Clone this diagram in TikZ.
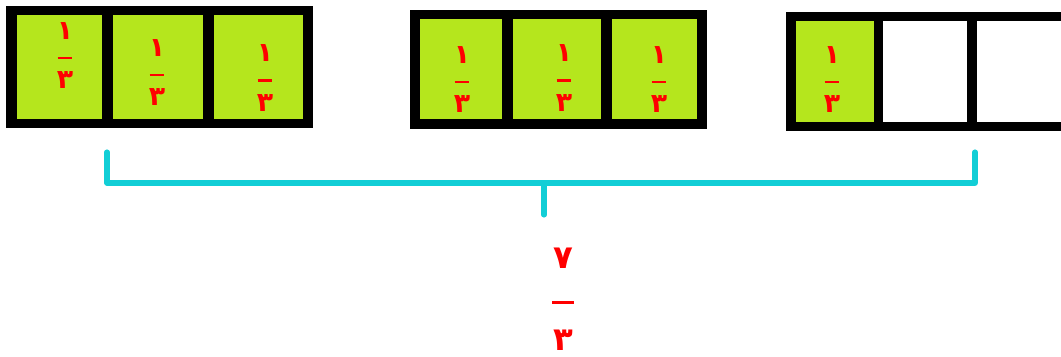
\documentclass[tikz,border=0pt]{standalone}
\usepackage{fontspec}
\newfontfamily\arabicfont[Script=Arabic]{DejaVu Sans}
\definecolor{cellgreen}{RGB}{181,230,29}
\definecolor{bracketcyan}{RGB}{18,206,214}
\newcommand{\smallfrac}[2]{#1\\\rule[3.5pt]{10.5pt}{1.5pt}\\#2}
\newcommand{\bigfrac}[2]{#1\\\rule[4pt]{15.6pt}{2.1pt}\\#2}

\begin{document}
\begin{tikzpicture}[x=0.025cm,y=-0.025cm,
  cell/.style={fill=cellgreen, inner sep=0pt, minimum height=2.55cm},
  empty/.style={fill=white, inner sep=0pt, minimum height=2.525cm},
  frac/.style={text=red, align=center, inner sep=0pt, font=\arabicfont\bfseries\fontsize{19}{17.75}\selectfont},
  total/.style={text=red, align=center, inner sep=0pt, font=\arabicfont\bfseries\fontsize{23}{29}\selectfont},
  brace/.style={draw=bracketcyan, line width=3.6pt, line cap=round, line join=round}]
\useasboundingbox (0,0) rectangle (1061,356);

% first whole
\fill[black] (6,6) rectangle (313,128);
\node[cell, minimum width=2.125cm, minimum height=2.6cm] (c11) at (59.5,67) {};
\node[cell, minimum width=2.25cm, minimum height=2.6cm] (c12) at (158,67) {};
\node[cell, minimum width=2.225cm, minimum height=2.6cm] (c13) at (258.5,67) {};
\node[frac] (f11) at (65,55.5) {\smallfrac{١}{٣}};
\node[frac] (f12) at (157,72.5) {\smallfrac{١}{٣}};
\node[frac] (f13) at (265,78) {\smallfrac{١}{٣}};

% second whole
\fill[black] (410,10) rectangle (707,129);
\node[cell, minimum width=2.05cm, minimum height=2.5cm] (c21) at (461,69) {};
\node[cell, minimum width=2.2cm, minimum height=2.5cm] (c22) at (557,69) {};
\node[cell, minimum width=2.125cm, minimum height=2.5cm] (c23) at (654.5,69) {};
\node[frac] (f21) at (462,79.5) {\smallfrac{١}{٣}};
\node[frac] (f22) at (564,78) {\smallfrac{١}{٣}};
\node[frac] (f23) at (659,79.5) {\smallfrac{١}{٣}};

% third whole
\fill[black] (786,12) rectangle (1061,131);
\node[cell, minimum width=1.95cm, minimum height=2.525cm] (c31) at (835,71.5) {};
\node[empty, minimum width=2.1cm] (c32) at (925,71.5) {};
\node[empty, minimum width=2.1cm] (c33) at (1019,71.5) {};
\node[frac] (f31) at (832,79.5) {\smallfrac{١}{٣}};

% bracket and sum
\coordinate (bl) at (107,152);
\coordinate (br) at (975,152);
\coordinate (bm) at (544,183);
\coordinate (bs) at (544,215);
\draw[brace] (bl) |- (bm) -| (br);
\draw[brace] (bm) -- (bs);
\node[total] (sum) at (563,299) {\bigfrac{٧}{٣}};
\end{tikzpicture}
\end{document}
